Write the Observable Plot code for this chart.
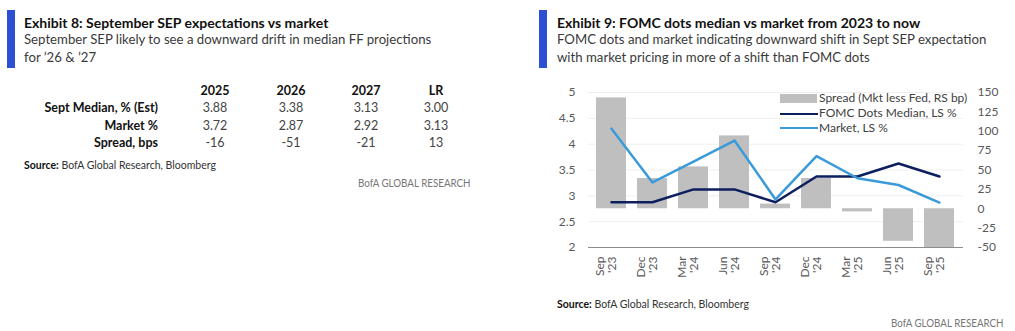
<!DOCTYPE html>
<html><head><meta charset="utf-8">
<script src="https://cdn.jsdelivr.net/npm/d3@7"></script>
<script src="https://cdn.jsdelivr.net/npm/@observablehq/plot@0.6"></script>
<style>
body{margin:0;width:1015px;height:331px;position:relative;background:#fff;font-family:Lato,"Open Sans",sans-serif;overflow:hidden}
.abs{position:absolute;white-space:nowrap}
.vbar{position:absolute;width:8px;height:58px;background:#2b50d3;top:10px}
.title{font-weight:700;font-size:14px;color:#111;line-height:16px}
.sub{font-size:13.2px;color:#3a3a3a;line-height:17.5px}
.cell{font-size:12.5px;line-height:14px;color:#444}
.hdr{font-weight:700;color:#111}
.rlab{font-weight:700;color:#111;text-align:right}
.src{font-size:10.5px;color:#333;line-height:13px}
.src b{color:#111}
.bofa{font-size:11.5px;color:#777;line-height:13px;transform:scaleX(0.85);transform-origin:left center}
.leg{font-size:12px;color:#404040;line-height:14px}
#chart{position:absolute;left:540px;top:80px}
</style>
</head><body>
<div class="vbar" style="left:7px"></div>
<div class="abs title" style="left:24px;top:15px">Exhibit 8: September SEP expectations vs market</div>
<div class="abs sub" style="left:24px;top:31px">September SEP likely to see a downward drift in median FF projections<br>for ’26 &amp; ’27</div>
<div id="table"></div>
<div class="abs src" style="left:24px;top:159px"><b>Source:</b> BofA Global Research, Bloomberg</div>
<div class="abs bofa" style="left:358px;top:176px">BofA GLOBAL RESEARCH</div>

<div class="vbar" style="left:539px"></div>
<div class="abs title" style="left:557px;top:15px">Exhibit 9: FOMC dots median vs market from 2023 to now</div>
<div class="abs sub" style="left:557px;top:31px">FOMC dots and market indicating downward shift in Sept SEP expectation<br>with market pricing in more of a shift than FOMC dots</div>
<div id="chart"></div>
<div id="legend"></div>
<div class="abs src" style="left:557px;top:298px"><b>Source:</b> BofA Global Research, Bloomberg</div>
<div class="abs bofa" style="left:891px;top:316px">BofA GLOBAL RESEARCH</div>

<script>
// ---- Exhibit 8 table data ----
const tableCols = ["2025", "2026", "2027", "LR"];
const tableRows = ["Sept Median, % (Est)", "Market %", "Spread, bps"];
const septMedian = [3.88, 3.38, 3.13, 3.00];
const marketPct = [3.72, 2.87, 2.92, 3.13];
const spreadBps = [-16, -51, -21, 13];

// ---- Exhibit 9 chart data ----
const categories = ["Sep '23", "Dec '23", "Mar '24", "Jun '24", "Sep '24", "Dec '24", "Mar '25", "Jun '25", "Sep '25"];
const fomcMedian = [2.875, 2.875, 3.125, 3.125, 2.875, 3.375, 3.375, 3.625, 3.375];
const marketRate = [4.30, 3.26, 3.66, 4.07, 2.93, 3.77, 3.34, 3.21, 2.87];
const spreadBp = [143, 39, 54, 94, 6, 39, -4, -42, -51];
const leftTicks = [2, 2.5, 3, 3.5, 4, 4.5, 5];
const rightTicks = [-50, -25, 0, 25, 50, 75, 100, 125, 150];
const seriesNames = ["Spread (Mkt less Fed, RS bp)", "FOMC Dots Median, LS %", "Market, LS %"];
const colors = {spread: "#bfbfbf", fomc: "#0d1f5f", market: "#3b9ad9"};

// table
(function(){
  const colX = [215, 291, 366, 436];
  const rowY = [84, 101, 119, 136];
  const rowVals = [septMedian.map(v => v.toFixed(2)), marketPct.map(v => v.toFixed(2)), spreadBps.map(v => String(v))];
  const t = document.getElementById("table");
  let html = "";
  tableCols.forEach((c, j) => {
    html += `<div class="abs cell hdr" style="left:${colX[j]-40}px;width:80px;text-align:center;top:${rowY[0]}px">${c}</div>`;
  });
  tableRows.forEach((r, i) => {
    html += `<div class="abs cell rlab" style="left:0px;width:158px;top:${rowY[i+1]}px">${r}</div>`;
    rowVals[i].forEach((v, j) => {
      html += `<div class="abs cell" style="left:${colX[j]-40}px;width:80px;text-align:center;top:${rowY[i+1]}px">${v}</div>`;
    });
  });
  t.innerHTML = html;
})();

// chart: right axis (bp) mapped onto left scale: 0bp <-> 2.75, 150bp <-> 5
const bpToLeft = bp => 2.75 + bp * 0.015;
const leftToBp = v => Math.round((v - 2.75) / 0.015);
const data = categories.map((c, i) => ({cat: c, fomc: fomcMedian[i], mkt: marketRate[i], spread: spreadBp[i]}));

const chart = Plot.plot({
  width: 475, height: 205,
  marginLeft: 48, marginRight: 52, marginTop: 12, marginBottom: 38,
  style: {fontFamily: "Lato, 'Open Sans', sans-serif", fontSize: "12px", color: "#595959", background: "transparent"},
  x: {domain: categories, paddingInner: 0.26, paddingOuter: 0.1},
  y: {domain: [2, 5]},
  marks: [
    Plot.gridY(leftTicks, {stroke: "#efefef", strokeOpacity: 1}),
    Plot.barY(data, {x: "cat", y1: () => bpToLeft(0), y2: d => bpToLeft(d.spread), fill: colors.spread}),
    Plot.lineY(data, {x: "cat", y: "fomc", stroke: colors.fomc, strokeWidth: 2.5}),
    Plot.lineY(data, {x: "cat", y: "mkt", stroke: colors.market, strokeWidth: 2.5}),
    Plot.ruleY([2], {stroke: "#8c8c8c"}),
    Plot.axisY(leftTicks, {anchor: "left", tickSize: 0, tickPadding: 13, tickFormat: d => String(d), label: null}),
    Plot.axisY(rightTicks.map(bpToLeft), {anchor: "right", tickSize: 0, tickPadding: 14, tickFormat: leftToBp, label: null}),
    Plot.axisX({tickSize: 0, tickPadding: 9, tickRotate: -90, dx: -5, tickFormat: d => d.replace(" ", "\n"), label: null})
  ]
});
document.getElementById("chart").appendChild(chart);

// legend (HTML overlay)
(function(){
  const lg = document.getElementById("legend");
  const top0 = 91;
  const sw = [
    `<div class="abs" style="left:780px;top:${top0+2.5}px;width:37px;height:9px;background:${colors.spread}"></div>`,
    `<div class="abs" style="left:780px;top:${top0+21.5}px;width:38px;height:2.5px;background:${colors.fomc}"></div>`,
    `<div class="abs" style="left:780px;top:${top0+35.5}px;width:38px;height:2.5px;background:${colors.market}"></div>`
  ];
  let html = sw.join("");
  seriesNames.forEach((n, i) => {
    html += `<div class="abs leg" style="left:819px;top:${top0 + i*15}px">${n}</div>`;
  });
  lg.innerHTML = html;
})();
</script>
</body></html>
